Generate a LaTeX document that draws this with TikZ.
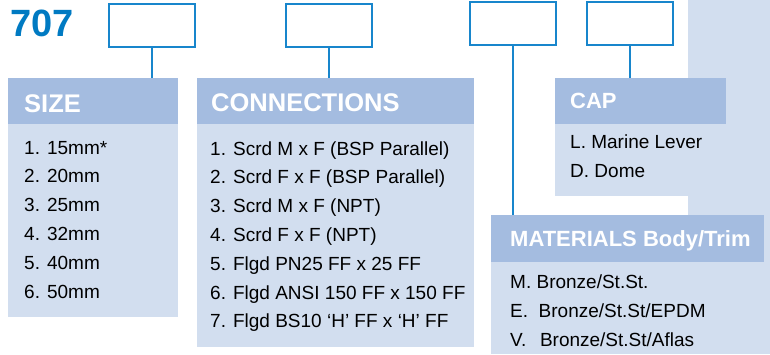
\documentclass[tikz,border=0pt]{standalone}
\usepackage{fontspec}
\setmainfont{Liberation Sans}
\definecolor{codeblue}{RGB}{0,122,194}
\definecolor{linkblue}{RGB}{24,134,204}
\definecolor{headfill}{RGB}{164,188,224}
\definecolor{bodyfill}{RGB}{210,222,239}
\tikzset{
  codebox/.style={draw=linkblue, line width=1.5pt, fill=white, minimum width=86pt, minimum height=43pt, anchor=north west, inner sep=0pt},
  headbox/.style={fill=headfill, anchor=north west, minimum height=46pt, inner sep=0pt},
  bodybox/.style={fill=bodyfill, anchor=north west, inner sep=0pt},
  headtext/.style={anchor=base west, text=white, font=\bfseries\fontsize{25.5}{25.5}\selectfont, inner sep=0pt},
  headsmall/.style={headtext, font=\bfseries\fontsize{22}{22}\selectfont},
  item/.style={anchor=base west, font=\fontsize{19}{20}\selectfont, inner sep=0pt},
  link/.style={draw=linkblue, line width=1.5pt}
}
\begin{document}
\begin{tikzpicture}[x=1pt,y=-1pt]
\useasboundingbox (0,0) rectangle (770,354);
\fill[bodyfill] (688,0) rectangle (770,354);

\node[bodybox, minimum width=170pt, minimum height=193pt] (sizebody) at (8,124) {};
\node[bodybox, minimum width=277pt, minimum height=223pt] (connbody) at (197,124) {};
\node[bodybox, minimum width=215pt, minimum height=72pt] (capbody) at (555,124) {};
\node[bodybox, minimum width=279pt, minimum height=92pt] (matbody) at (491,262) {};

\node[headbox, minimum width=170pt] (sizehead) at (8,78) {};
\node[headbox, minimum width=277pt] (connhead) at (197,78) {};
\node[headbox, minimum width=171pt] (caphead) at (555,78) {};
\node[headbox, minimum width=273pt, minimum height=47pt] (mathead) at (491,215) {};

\node[codebox] (sizecode) at (108,3) {};
\node[codebox] (conncode) at (285,3) {};
\node[codebox] (matcode) at (469,1) {};
\node[codebox] (capcode) at (586,1) {};

\draw[link] (sizecode.south) -- (sizecode.south |- sizehead.north);
\draw[link] (conncode.south) -- (conncode.south |- connhead.north);
\draw[link] (matcode.south) -- (matcode.south |- mathead.north);
\draw[link] (capcode.south) -- (capcode.south |- caphead.north);

\node[anchor=base west, inner sep=0pt, text=codeblue, font=\bfseries\fontsize{38}{38}\selectfont] (model) at (10,36) {707};

\node[headtext] (sizelabel) at (24,112) {SIZE};
\node[headtext] (connlabel) at (211,111) {CONNECTIONS};
\node[headsmall] (caplabel) at (570,108) {CAP};
\node[headsmall] (matlabel) at (510,246) {MATERIALS Body/Trim};

\foreach \t [count=\i] in {15mm*,20mm,25mm,32mm,40mm,50mm}
	\node[item] (size\i) at (24,{154+28.8*(\i-1)}) {\i. \t};
\foreach \t [count=\i] in {{Scrd M x F (BSP Parallel)},{Scrd F x F (BSP Parallel)},{Scrd M x F (NPT)},{Scrd F x F (NPT)},{Flgd PN25 FF x 25 FF},{Flgd ANSI 150 FF x 150 FF},{Flgd BS10 ‘H’ FF x ‘H’ FF}}
	\node[item] (conn\i) at (210,{155+28.8*(\i-1)}) {\i. \t};
\foreach \t [count=\i] in {{L. Marine Lever},{D. Dome}}
	\node[item] (cap\i) at (570,{148+29*(\i-1)}) {\t};
\foreach \t [count=\i] in {{M. Bronze/St.St.},{E.\hspace{10.6pt}Bronze/St.St/EPDM},{V.\hspace{13.6pt}Bronze/St.St/Aflas}}
	\node[item] (mat\i) at (510,{288+29*(\i-1)}) {\t};
\end{tikzpicture}
\end{document}
